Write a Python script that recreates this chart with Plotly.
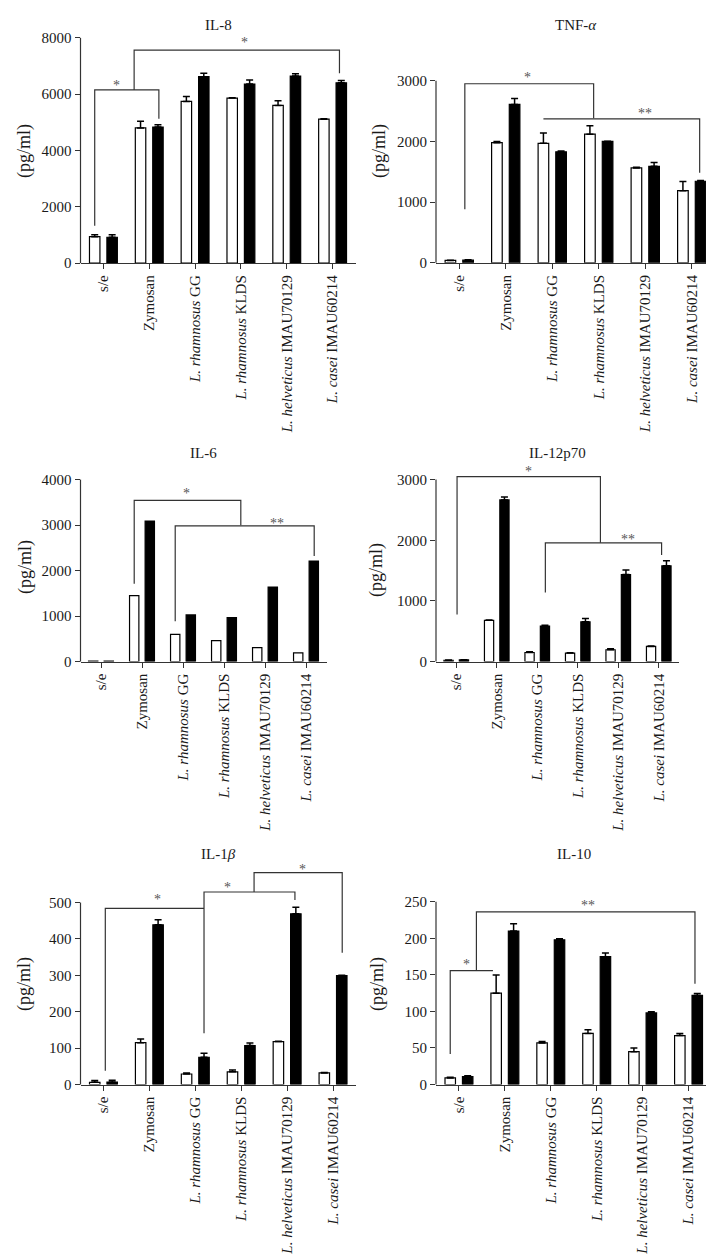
import plotly.graph_objects as go

W, H = 714, 1255

categories = ["s/e", "Zymosan", "<i>L. rhamnosus</i> GG", "<i>L. rhamnosus</i> KLDS",
              "<i>L. helveticus</i> IMAU70129", "<i>L. casei</i> IMAU60214"]

# ---- data (pg/ml) ----
il8_white = [940, 4800, 5740, 5860, 5600, 5110]
il8_white_err = [70, 235, 175, 15, 165, 15]
il8_black = [920, 4830, 6620, 6360, 6640, 6400]
il8_black_err = [90, 85, 120, 140, 85, 85]

tnf_white = [40, 1980, 1970, 2120, 1565, 1190]
tnf_white_err = [5, 20, 170, 140, 12, 150]
tnf_black = [45, 2610, 1830, 2000, 1590, 1345]
tnf_black_err = [5, 100, 15, 5, 65, 12]

il6_white = [10, 1450, 600, 460, 305, 190]
il6_white_err = [0, 0, 0, 0, 0, 0]
il6_black = [10, 3090, 1025, 965, 1640, 2210]
il6_black_err = [0, 0, 0, 0, 0, 0]

il12_white = [22, 680, 150, 140, 195, 250]
il12_white_err = [5, 5, 12, 5, 15, 5]
il12_black = [27, 2665, 585, 655, 1435, 1580]
il12_black_err = [5, 50, 16, 55, 75, 82]

il1b_white = [6, 115, 29, 35, 118, 32]
il1b_white_err = [5, 10, 3, 5, 1, 1]
il1b_black = [7, 439, 75, 107, 469, 299]
il1b_black_err = [5, 14, 11, 7, 18, 1]

il10_white = [9, 125, 57, 70, 45, 67]
il10_white_err = [1, 25, 2, 5, 5, 3]
il10_black = [11, 210, 198, 175, 98, 122]
il10_black_err = [1, 10, 1.5, 5, 1.5, 2.5]

titles = ["IL-8", "TNF-<i>α</i>", "IL-6", "IL-12p70", "IL-1<i>β</i>", "IL-10"]
yticks = [[0, 2000, 4000, 6000, 8000], [0, 1000, 2000, 3000], [0, 1000, 2000, 3000, 4000],
          [0, 1000, 2000, 3000], [0, 100, 200, 300, 400, 500], [0, 50, 100, 150, 200, 250]]

# significance brackets (x in category units, y in pg/ml) and stars
il8_brackets = [([-0.19, -0.19, 1.21, 1.21], [1330, 6150, 6150, 5130]),
                ([0.67, 0.67, 5.15, 5.15], [6150, 7565, 7565, 6740])]
il8_stars = [(0.28, 6450, "*"), (3.08, 7976, "*")]
tnf_brackets = [([0.12, 0.12, 2.89, 2.89], [884, 2951, 2951, 2384]),
                ([1.81, 5.17, 5.17], [2373, 2373, 1484])]
tnf_stars = [(1.46, 3120, "*"), (4.0, 2520, "**")]
il6_brackets = [([0.81, 0.81, 3.41, 3.41], [1709, 3542, 3542, 2996]),
                ([1.81, 1.81, 5.2, 5.2], [887, 2982, 2982, 2320])]
il6_stars = [(2.08, 3782, "*"), (4.3, 3127, "**")]
il12_brackets = [([0.02, 0.02, 3.56, 3.56], [775, 3050, 3050, 1958]),
                 ([2.2, 2.2, 5.07, 5.07], [1140, 1958, 1958, 1757])]
il12_stars = [(1.78, 3201, "*"), (4.24, 2084, "**")]
il1b_brackets = [([0.04, 0.04, 2.19], [38, 484, 484]),
                 ([2.19, 2.19, 4.17, 4.17], [141, 529, 529, 507]),
                 ([3.28, 3.28, 5.2, 5.2], [529, 582, 582, 362])]
il1b_stars = [(1.17, 519, "*"), (2.71, 553, "*"), (4.33, 602, "*")]
il10_brackets = [([-0.19, -0.19, 0.74], [41.7, 156, 156]),
                 ([0.38, 0.38, 5.14, 5.14], [156, 236.4, 236.4, 138])]
il10_stars = [(0.16, 170, "*"), (2.8, 251, "**")]

series = [
    (il8_white, il8_white_err, il8_black, il8_black_err, il8_brackets, il8_stars),
    (tnf_white, tnf_white_err, tnf_black, tnf_black_err, tnf_brackets, tnf_stars),
    (il6_white, il6_white_err, il6_black, il6_black_err, il6_brackets, il6_stars),
    (il12_white, il12_white_err, il12_black, il12_black_err, il12_brackets, il12_stars),
    (il1b_white, il1b_white_err, il1b_black, il1b_black_err, il1b_brackets, il1b_stars),
    (il10_white, il10_white_err, il10_black, il10_black_err, il10_brackets, il10_stars),
]

# ---- panel geometry (pixels) ----
# axis left, axis right, pixel of 0, pixel of top tick, range max
geom = [
    (72.5, 347.5, 256.0, 29.0, 8600),
    (428.0, 707.0, 255.7, 72.3, 3300),
    (72.5, 318.5, 657.3, 474.0, 4150),
    (428.0, 671.0, 657.3, 474.0, 3400),
    (72.5, 348.0, 1083.3, 900.0, 635),
    (428.0, 703.5, 1083.3, 899.3, 266),
]
ytitle_pos = [(17, 143), (372, 143), (18, 562), (369, 565), (17, 982), (370, 982)]

FONT = "Liberation Serif"
LINE = "#333333"
TXT = "#1a1a1a"

fig = go.Figure()
layout = dict(width=W, height=H, margin=dict(l=0, r=0, t=0, b=0),
              paper_bgcolor="white", plot_bgcolor="white",
              barmode="group", bargap=0.24, bargroupgap=0.4, showlegend=False,
              font=dict(family=FONT, size=15, color=TXT))
shapes = []
annotations = []
x_idx = list(range(len(categories)))

for i, (g, s) in enumerate(zip(geom, series)):
    n = i + 1
    xa = "x" if n == 1 else f"x{n}"
    ya = "y" if n == 1 else f"y{n}"
    axl, axr, p0, ptop, rmax = g
    top_tick = yticks[i][-1]
    scale = (p0 - ptop) / top_tick
    p_rmax = p0 - rmax * scale
    white, werr, black, berr, brackets, stars = s

    for vals, errs, fill in ((white, werr, "white"), (black, berr, "black")):
        fig.add_trace(go.Bar(
            x=x_idx, y=vals, xaxis=xa, yaxis=ya,
            marker=dict(color=fill, line=dict(color="black", width=1.2)),
            error_y=dict(type="data", array=errs, arrayminus=[0] * len(errs), symmetric=False,
                         visible=any(e > 0 for e in errs),
                         thickness=1.5, width=3.5, color="black"),
        ))
    for bx, by in brackets:
        fig.add_trace(go.Scatter(x=bx, y=by, xaxis=xa, yaxis=ya, mode="lines",
                                 line=dict(color=LINE, width=1.2), hoverinfo="skip"))
    for sx, sy, st in stars:
        annotations.append(dict(x=sx, y=sy, xref=xa, yref=ya, text=st, showarrow=False,
                                yanchor="middle", yshift=-4,
                                font=dict(family=FONT, size=14, color="#555555")))

    layout["xaxis" if n == 1 else f"xaxis{n}"] = dict(
        domain=[axl / W, axr / W], range=[-0.5, 5.5], anchor=ya,
        tickmode="array", tickvals=x_idx, ticktext=categories, tickangle=-90,
        ticks="outside", ticklen=5, tickwidth=1.2, tickcolor=LINE,
        showline=True, linecolor=LINE, linewidth=1.2,
        showgrid=False, zeroline=False,
        tickfont=dict(family=FONT, size=15, color=TXT))
    layout["yaxis" if n == 1 else f"yaxis{n}"] = dict(
        domain=[1 - p0 / H, 1 - p_rmax / H], range=[0, rmax], anchor=xa,
        tickmode="array", tickvals=yticks[i],
        ticks="outside", ticklen=5, tickwidth=1.2, tickcolor=LINE,
        showline=False, showgrid=False, zeroline=False,
        tickfont=dict(family=FONT, size=15, color=TXT))
    # y axis line only up to the top tick
    shapes.append(dict(type="line", xref="paper", yref="paper",
                       x0=axl / W, x1=axl / W, y0=1 - p0 / H, y1=1 - ptop / H,
                       line=dict(color=LINE, width=1.2)))
    # panel title
    title_y = 16 if i < 2 else (447 if i < 4 else 851)
    annotations.append(dict(x=(axl + axr) / 2 / W, y=1 - title_y / H, xref="paper", yref="paper",
                            text=titles[i], showarrow=False, xanchor="center", yanchor="middle",
                            font=dict(family=FONT, size=15, color=TXT)))
    # y axis title
    tx, ty = ytitle_pos[i]
    annotations.append(dict(x=tx / W, y=1 - ty / H, xref="paper", yref="paper",
                            text="(pg/ml)", showarrow=False, textangle=-90,
                            xanchor="center", yanchor="middle",
                            font=dict(family=FONT, size=18, color=TXT)))

layout["shapes"] = shapes
layout["annotations"] = annotations
fig.update_layout(**layout)
fig.write_html("out.html")
